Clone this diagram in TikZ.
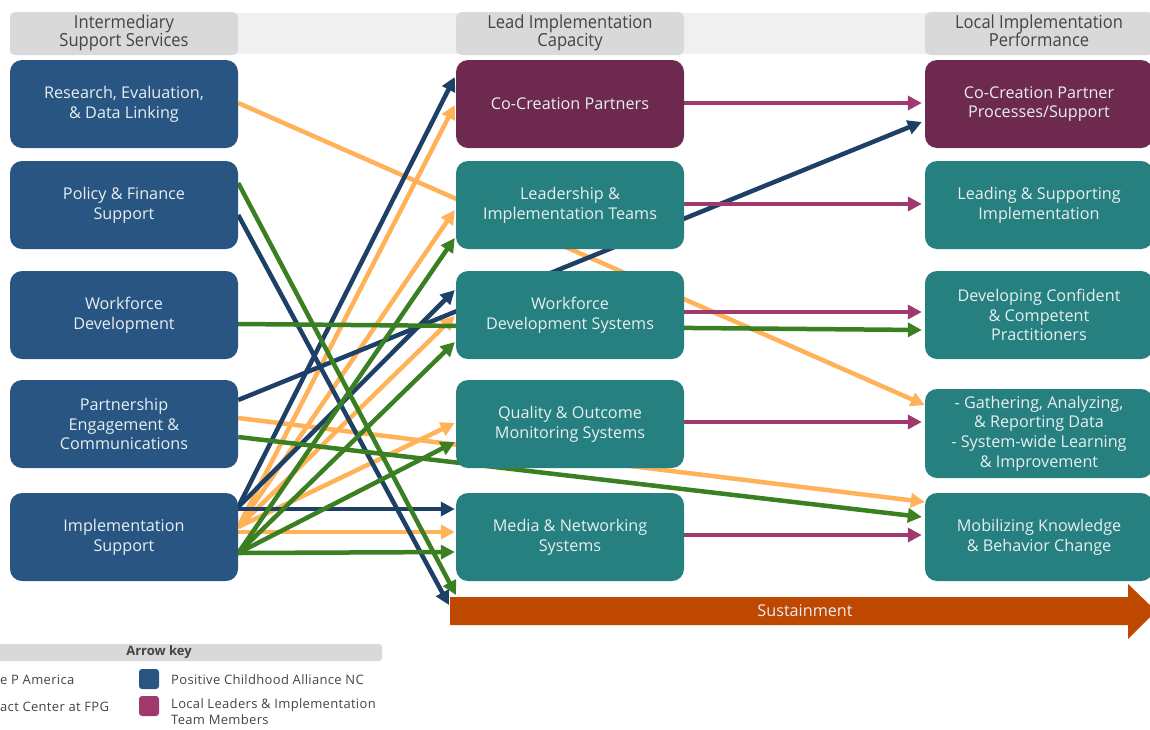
\documentclass[tikz,border=0pt]{standalone}
\usepackage{fontspec}
\setmainfont{Open Sans}
\usetikzlibrary{arrows.meta,calc}
\definecolor{boxblue}{HTML}{285582}
\definecolor{boxpurple}{HTML}{6E2A4E}
\definecolor{boxteal}{HTML}{26807F}
\definecolor{boxtext}{HTML}{E8EEF2}
\definecolor{navyarr}{HTML}{1E3F66}
\definecolor{orangearr}{HTML}{FFB257}
\definecolor{greenarr}{HTML}{3A7F22}
\definecolor{magarr}{HTML}{A03A6E}
\definecolor{sustcol}{HTML}{BF4800}
\definecolor{hdrband}{HTML}{F0F0F0}
\definecolor{hdrbox}{HTML}{D9D9D9}
\definecolor{hdrtext}{HTML}{444444}
\pgfdeclarelayer{bg}
\pgfdeclarelayer{lines}
\pgfsetlayers{bg,lines,main}
\tikzset{
  cbox/.style={rectangle, rounded corners=12pt, minimum width=228pt, minimum height=88pt,
    inner sep=0pt, align=center, text=boxtext, font=\fontsize{16.2}{19.6}\selectfont},
  bluebox/.style={cbox, fill=boxblue},
  purplebox/.style={cbox, fill=boxpurple},
  tealbox/.style={cbox, fill=boxteal},
  hdr/.style={rectangle, rounded corners=6pt, fill=hdrbox, minimum width=228pt, minimum height=43pt,
    inner sep=0pt, align=center, text=hdrtext, font=\fontsize{18}{20}\selectfont},
  arr/.style={line width=4.5pt, -{Triangle[length=14pt,width=14pt]}},
  navyline/.style={arr, draw=navyarr, fill=navyarr},
  orangeline/.style={arr, draw=orangearr, fill=orangearr},
  greenline/.style={arr, draw=greenarr, fill=greenarr},
  magline/.style={line width=4pt, draw=magarr, -{Triangle[length=14pt,width=14pt]}},
  legtext/.style={anchor=west, inner sep=0pt, text=hdrtext, align=left,
    font=\fontsize{13}{16}\selectfont\addfontfeatures{LetterSpace=2.5}},
}
\begin{document}
\begin{tikzpicture}[x=1pt,y=-1pt]
\useasboundingbox (0,0) rectangle (1150,729);
% header band
\begin{pgfonlayer}{bg}
\fill[hdrband] (10,13) rectangle (1150,54);
\end{pgfonlayer}
\node[hdr] (H1) at (124,33.5) {\raisebox{-1.5pt}{\scalebox{0.92}[1]{\begin{tabular}{@{}c@{}}Intermediary\\[-2pt]Support Services\end{tabular}}}};
\node[hdr] (H2) at (570,33.5) {\raisebox{-1.5pt}{\scalebox{0.92}[1]{\begin{tabular}{@{}c@{}}Lead Implementation\\[-2pt]Capacity\end{tabular}}}};
\node[hdr] (H3) at (1039,33.5) {\raisebox{1pt}{\scalebox{0.92}[1]{\begin{tabular}{@{}c@{}}Local Implementation\\[-2pt]Performance\end{tabular}}}};
% left column
\node[bluebox] (L1) at (124,104) {Research, Evaluation,\\\& Data Linking};
\node[bluebox] (L2) at (124,205) {Policy \& Finance\\Support};
\node[bluebox] (L3) at (124,315) {Workforce\\Development};
\node[bluebox] (L4) at (124,424) {Partnership\\Engagement \&\\Communications};
\node[bluebox] (L5) at (124,537) {Implementation\\Support};
% middle column
\node[purplebox] (M1) at (570,104) {Co-Creation Partners};
\node[tealbox] (M2) at (570,205) {Leadership \&\\Implementation Teams};
\node[tealbox] (M3) at (570,315) {Workforce\\Development Systems};
\node[tealbox] (M4) at (570,424) {Quality \& Outcome\\Monitoring Systems};
\node[tealbox] (M5) at (570,537) {Media \& Networking\\Systems};
% right column
\node[purplebox] (R1) at (1039,104) {Co-Creation Partner\\Processes/Support};
\node[tealbox] (R2) at (1039,205) {Leading \& Supporting\\Implementation};
\node[tealbox] (R3) at (1039,315) {Developing Confident\\\& Competent\\Practitioners};
\node[tealbox, minimum height=89pt] (R4) at (1039,433.5) {- Gathering, Analyzing,\\\& Reporting Data\\- System-wide Learning\\\& Improvement};
\node[tealbox] (R5) at (1039,537) {Mobilizing Knowledge\\\& Behavior Change};
% sustainment arrow
\fill[sustcol] (450,597) -- (1128,597) -- (1128,584) -- (1156,611) -- (1128,639) -- (1128,625) -- (450,625) -- cycle;
\coordinate (Stl) at (450,597);
\node[text=boxtext, font=\fontsize{16.2}{19}\selectfont, inner sep=0pt] (S) at (805,611) {Sustainment};
% connectors
\begin{pgfonlayer}{lines}
% orange
\draw[orangeline] ($(L1.east)+(0,-1)$) -- ($(R4.west)+(0,-28.5)$);
\draw[orangeline] ($(L4.east)+(0,-6)$) -- ($(R5.west)+(0,-35)$);
\draw[orangeline] ($(L5.east)+(0,-10)$) -- ($(M1.west)+(-1,1)$);
\draw[orangeline] ($(L5.east)+(0,-10)$) -- ($(M2.west)+(-1,5)$);
\draw[orangeline] ($(L5.east)+(0,-10)$) -- ($(M3.west)+(-1,1)$);
\draw[orangeline] ($(L5.east)+(0,-10)$) -- ($(M4.west)+(-1,-1)$);
\draw[orangeline] ($(L5.east)+(0,-5)$) -- ($(M5.west)+(-1,-5)$);
% navy
\draw[navyline] ($(L4.east)+(0,-24)$) -- ($(R1.west)+(-3,18)$);
\draw[navyline] ($(L2.east)+(0,10)$) -- ($(Stl)+(-1,8)$);
\draw[navyline] ($(L5.east)+(0,-30)$) -- ($(M1.west)+(-1,-27)$);
\draw[navyline] ($(L5.east)+(0,-30)$) -- ($(M3.west)+(-1,-25)$);
\draw[navyline] ($(L5.east)+(0,-28)$) -- ($(M5.west)+(-1,-28)$);
% green
\draw[greenline] ($(L2.east)+(0,-22)$) -- ($(Stl)+(6,-2)$);
\draw[greenline] ($(L3.east)+(0,9)$) -- ($(R3.west)+(-3,15)$);
\draw[greenline] ($(L4.east)+(0,13)$) -- ($(R5.west)+(-3,-20)$);
\draw[greenline] ($(L5.east)+(0,16)$) -- ($(M2.west)+(-1,33)$);
\draw[greenline] ($(L5.east)+(0,16)$) -- ($(M3.west)+(-1,27)$);
\draw[greenline] ($(L5.east)+(0,16)$) -- ($(M4.west)+(-1,18)$);
\draw[greenline] ($(L5.east)+(0,16)$) -- ($(M5.west)+(-1,15)$);
% magenta
\draw[magline] ($(M1.east)+(0,-1)$) -- ($(R1.west)+(-3,-1)$);
\draw[magline] ($(M2.east)+(0,-1)$) -- ($(R2.west)+(-3,-1)$);
\draw[magline] ($(M3.east)+(0,-3)$) -- ($(R3.west)+(-3,-3)$);
\draw[magline] ($(M4.east)+(0,-2)$) -- ($(R4.west)+(-3,-11.5)$);
\draw[magline] ($(M5.east)+(0,-2)$) -- ($(R5.west)+(-3,-2)$);
\end{pgfonlayer}
% legend
\begin{pgfonlayer}{bg}
\fill[hdrbox, rounded corners=3pt] (-20,644) rectangle (382,661);
\end{pgfonlayer}
\node[font=\bfseries\fontsize{13}{14}\selectfont, text=hdrtext, inner sep=0pt] (K) at (159,652.5) {Arrow key};
\node[legtext] (K1) at (0,680) {e P America};
\node[legtext] (K2) at (0,707) {act Center at FPG};
\node[rectangle, rounded corners=3pt, fill=boxblue, minimum size=20pt, inner sep=0pt] (SW1) at (149,679) {};
\node[rectangle, rounded corners=3pt, fill=magarr, minimum size=20pt, inner sep=0pt] (SW2) at (149,706) {};
\node[legtext] (K3) at (171,680) {Positive Childhood Alliance NC};
\node[legtext, anchor=north west] (K4) at (171,698) {Local Leaders \& Implementation\\Team Members};
\end{tikzpicture}
\end{document}
